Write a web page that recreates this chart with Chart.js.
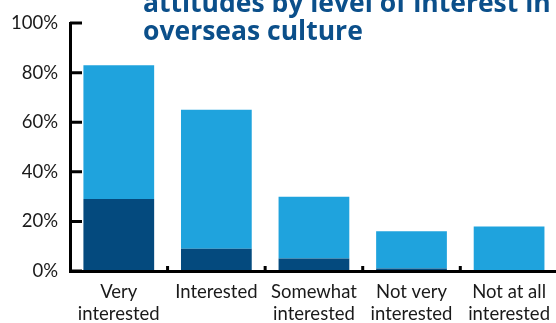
<!DOCTYPE html>
<html>
<head>
<meta charset="utf-8">
<script src="https://cdn.jsdelivr.net/npm/chart.js@4.4.1/dist/chart.umd.min.js"></script>
<style>
  html, body { margin: 0; padding: 0; background: #fff; overflow: hidden; }
  #wrap { position: relative; width: 560px; height: 323px; }
  #title {
    position: absolute; left: 143px; top: -12px;
    font: bold 26.5px "Open Sans", sans-serif; line-height: 28px;
    color: #0b4f8a; white-space: nowrap;
  }
</style>
</head>
<body>
<div id="wrap">
  <canvas id="interestChart" width="560" height="323"></canvas>
  <div id="title">attitudes by level of interest in<br>overseas culture</div>
</div>
<script>
// 各興趣程度的分類與數值（%）
const categories = [
    ['Very', 'interested'],
    'Interested',
    ['Somewhat', 'interested'],
    ['Not very', 'interested'],
    ['Not at all', 'interested']
];
const darkValues = [29, 9, 5, 1, 0];
const lightValues = [54, 56, 25, 15, 18];
const yTicks = [0, 20, 40, 60, 80, 100];

// 軸內側的刻度線
const innerTicks = {
    id: 'innerTicks',
    afterDraw(chart) {
        const { ctx, chartArea, scales } = chart;
        ctx.save();
        ctx.strokeStyle = '#000';
        ctx.lineWidth = 3;
        ctx.beginPath();
        yTicks.forEach(v => {
            const y = scales.y.getPixelForValue(v);
            ctx.moveTo(chartArea.left, y);
            ctx.lineTo(chartArea.left + 12, y);
        });
        for (let i = 1; i < categories.length; i++) {
            const x = (scales.x.getPixelForValue(i - 1) + scales.x.getPixelForValue(i)) / 2;
            ctx.moveTo(x, chartArea.bottom);
            ctx.lineTo(x, chartArea.bottom - 5);
        }
        ctx.stroke();
        ctx.restore();
    }
};

new Chart(document.getElementById('interestChart'), {
    type: 'bar',
    data: {
        labels: categories,
        datasets: [{
            data: darkValues,
            backgroundColor: '#044a7e'
        }, {
            data: lightValues,
            backgroundColor: '#1fa3dd'
        }]
    },
    options: {
        responsive: false,
        animation: false,
        layout: { padding: { top: 19, right: 0 } },
        barPercentage: 0.725,
        categoryPercentage: 1,
        plugins: {
            legend: { display: false },
            tooltip: { enabled: false }
        },
        scales: {
            x: {
                stacked: true,
                grid: { display: false, drawTicks: false },
                border: { display: true, color: '#000', width: 3, z: 1 },
                ticks: {
                    color: '#1a1a1a',
                    padding: 10,
                    maxRotation: 0,
                    autoSkip: false,
                    font: { family: 'Lato', size: 18.5, lineHeight: 1.2 }
                },
                afterFit(scale) { scale.height = 52; }
            },
            y: {
                stacked: true,
                min: 0,
                max: 100,
                grid: { display: false, drawTicks: false },
                border: { display: true, color: '#000', width: 3, z: 1 },
                ticks: {
                    stepSize: 20,
                    padding: 12,
                    color: '#1a1a1a',
                    font: { family: 'Lato', size: 18.5 },
                    callback: v => v + '%'
                },
                afterFit(scale) { scale.width = 70; }
            }
        }
    },
    plugins: [innerTicks]
});
</script>
</body>
</html>
